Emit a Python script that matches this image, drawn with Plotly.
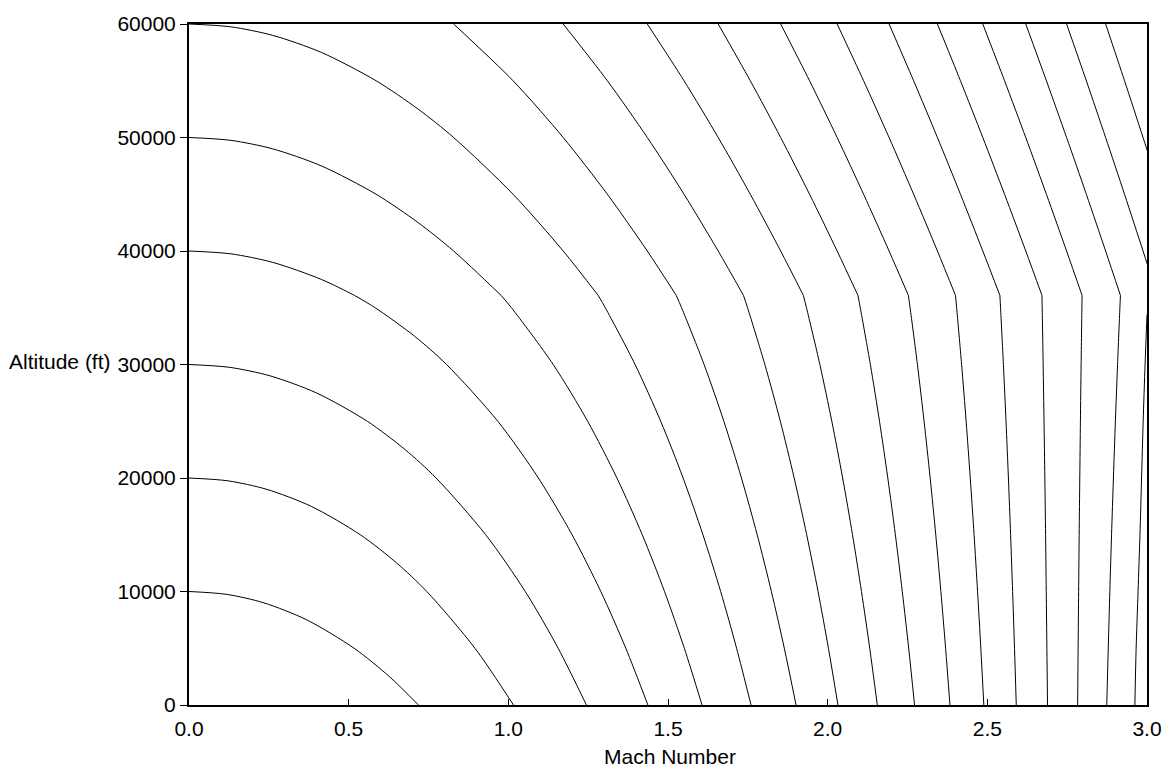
import plotly.graph_objects as go

# Energy-height curves (He = h + V^2/2g), read as (Mach, altitude ft) points
ALT_10K = [0, 2500, 5000, 7500, 9000, 9750, 10000]
MACH_10K = [0.7185, 0.6277, 0.5170, 0.3689, 0.2346, 0.1176, 0.0]

ALT_20K = [0, 5000, 10000, 12500, 15000, 17500, 19000, 19750, 20000]
MACH_20K = [1.0161, 0.8955, 0.7446, 0.6508, 0.5365, 0.3830, 0.2437, 0.1222, 0.0]

ALT_30K = [0, 5000, 10000, 15000, 20000, 22500, 25000, 27500, 29000, 29750, 30000]
MACH_30K = [1.2445, 1.1561, 1.0530, 0.9292, 0.7737, 0.6768, 0.5583, 0.3989, 0.2539, 0.1274, 0.0]

ALT_40K = [0, 5000, 10000, 15000, 20000, 25000, 30000, 32500, 35000, 36089, 37500, 39000, 39750, 40000]
MACH_40K = [1.4370, 1.3679, 1.2896, 1.1996, 1.0941, 0.9670, 0.8065, 0.7061, 0.5830, 0.5182, 0.4143, 0.2620, 0.1310, 0.0]

ALT_50K = [0, 5000, 10000, 15000, 20000, 25000, 30000, 35000, 36089, 40000, 42500, 45000, 47500, 49000, 49750, 50000]
MACH_50K = [1.6066, 1.5511, 1.4891, 1.4194, 1.3400, 1.2484, 1.1405, 1.0098, 0.9773, 0.8286, 0.7176, 0.5859, 0.4143, 0.2620, 0.1310, 0.0]

ALT_60K = [0, 5000, 10000, 15000, 20000, 25000, 30000, 35000, 36089, 40000, 45000, 50000, 52500, 55000, 57500, 59000, 59750, 60000]
MACH_60K = [1.7600, 1.7148, 1.6649, 1.6094, 1.5473, 1.4771, 1.3969, 1.3037, 1.2813, 1.1718, 1.0148, 0.8286, 0.7176, 0.5859, 0.4143, 0.2620, 0.1310, 0.0]

# common altitude grid for the higher-energy curves
ALT_HI = [0, 5000, 10000, 15000, 20000, 25000, 30000, 35000, 36089, 40000, 45000, 50000, 55000, 60000]
MACH_70K = [1.9010, 1.8642, 1.8238, 1.7793, 1.7300, 1.6749, 1.6130, 1.5426, 1.5259, 1.4352, 1.3101, 1.1718, 1.0148, 0.8286]
MACH_80K = [2.0322, 2.0024, 1.9699, 1.9343, 1.8951, 1.8517, 1.8033, 1.7491, 1.7363, 1.6572, 1.5502, 1.4352, 1.3101, 1.1718]
MACH_90K = [2.1555, 2.1317, 2.1059, 2.0778, 2.0469, 2.0130, 1.9755, 1.9337, 1.9239, 1.8528, 1.7577, 1.6572, 1.5502, 1.4352]
MACH_100K = [2.2721, 2.2537, 2.2337, 2.2120, 2.1883, 2.1623, 2.1337, 2.1021, 2.0948, 2.0297, 1.9433, 1.8528, 1.7577, 1.6572]
MACH_110K = [2.3830, 2.3693, 2.3545, 2.3385, 2.3210, 2.3019, 2.2811, 2.2581, 2.2527, 2.1923, 2.1125, 2.0297, 1.9433, 1.8528]
MACH_120K = [2.4890, 2.4796, 2.4694, 2.4585, 2.4465, 2.4336, 2.4194, 2.4039, 2.4003, 2.3437, 2.2692, 2.1923, 2.1125, 2.0297]
MACH_130K = [2.5906, 2.5851, 2.5792, 2.5729, 2.5660, 2.5585, 2.5503, 2.5414, 2.5393, 2.4858, 2.4158, 2.3437, 2.2692, 2.1923]
MACH_140K = [2.6884, 2.6865, 2.6845, 2.6824, 2.6801, 2.6775, 2.6748, 2.6718, 2.6710, 2.6203, 2.5539, 2.4858, 2.4158, 2.3437]
MACH_150K = [2.7828, 2.7843, 2.7859, 2.7876, 2.7895, 2.7915, 2.7937, 2.7961, 2.7966, 2.7482, 2.6850, 2.6203, 2.5539, 2.4858]
MACH_160K = [2.8740, 2.8787, 2.8836, 2.8890, 2.8948, 2.9010, 2.9078, 2.9151, 2.9168, 2.8704, 2.8100, 2.7482, 2.6850, 2.6203]

ALT_170K_LOW = [0, 5000, 10000, 15000, 20000, 25000, 30000, 34400]
MACH_170K_LOW = [2.962, 2.966, 2.972, 2.978, 2.983, 2.988, 2.994, 3.000]
ALT_170K_UP = [36089, 40000, 45000, 50000, 55000, 60000]
MACH_170K_UP = [3.0322, 2.9876, 2.9296, 2.8704, 2.8100, 2.7482]

ALT_180K = [36089, 40000, 45000, 50000, 55000, 60000]
MACH_180K = [3.1434, 3.1004, 3.0445, 2.9876, 2.9296, 2.8704]

TROPOPAUSE_FT = 36089

CURVES = [
    (MACH_10K, ALT_10K), (MACH_20K, ALT_20K), (MACH_30K, ALT_30K),
    (MACH_40K, ALT_40K), (MACH_50K, ALT_50K), (MACH_60K, ALT_60K),
    (MACH_70K, ALT_HI), (MACH_80K, ALT_HI), (MACH_90K, ALT_HI),
    (MACH_100K, ALT_HI), (MACH_110K, ALT_HI), (MACH_120K, ALT_HI),
    (MACH_130K, ALT_HI), (MACH_140K, ALT_HI), (MACH_150K, ALT_HI),
    (MACH_160K, ALT_HI), (MACH_170K_LOW, ALT_170K_LOW),
    (MACH_170K_UP, ALT_170K_UP), (MACH_180K, ALT_180K),
]

X_TICKS = [0.0, 0.5, 1.0, 1.5, 2.0, 2.5, 3.0]
X_TICK_TEXT = ["0.0", "0.5", "1.0", "1.5", "2.0", "2.5", "3.0"]
Y_TICKS = [0, 10000, 20000, 30000, 40000, 50000, 60000]
Y_TICK_TEXT = ["0", "10000", "20000", "30000", "40000", "50000", "60000"]

FONT = "Arial, 'Liberation Sans', sans-serif"

fig = go.Figure()


def add_piece(xs, ys):
    if len(xs) < 2:
        return
    fig.add_trace(go.Scatter(
        x=xs, y=ys, mode="lines",
        line=dict(color="black", width=1, shape="spline", smoothing=0.8),
        hoverinfo="skip", showlegend=False,
    ))


for mach, alt in CURVES:
    # split each curve at the tropopause so the kink stays sharp
    low = [(m, a) for m, a in zip(mach, alt) if a <= TROPOPAUSE_FT]
    high = [(m, a) for m, a in zip(mach, alt) if a >= TROPOPAUSE_FT]
    for piece in (low, high):
        add_piece([p[0] for p in piece], [p[1] for p in piece])

fig.update_layout(
    width=1174, height=772,
    margin=dict(l=189, r=26, t=17, b=67),
    paper_bgcolor="white", plot_bgcolor="white",
    font=dict(family=FONT, size=21, color="black"),
    showlegend=False,
)
fig.update_xaxes(
    range=[0, 3], tickvals=X_TICKS, ticktext=X_TICK_TEXT,
    ticks="inside", ticklen=6, tickwidth=1, tickcolor="black",
    showline=True, linewidth=2, linecolor="black", mirror=True,
    showgrid=False, zeroline=False, ticklabelstandoff=4,
    tickfont=dict(family=FONT, size=21, color="black"),
)
fig.update_yaxes(
    range=[0, 60000], tickvals=Y_TICKS, ticktext=Y_TICK_TEXT,
    ticks="outside", ticklen=7, tickwidth=1, tickcolor="black",
    showline=True, linewidth=2, linecolor="black", mirror=True,
    showgrid=False, zeroline=False,
    tickfont=dict(family=FONT, size=21, color="black"),
)
fig.add_annotation(
    text="Altitude (ft)", xref="paper", yref="paper",
    x=-0.0793, y=0.5044, xanchor="right", yanchor="middle",
    showarrow=False, font=dict(family=FONT, size=21, color="black"),
)
fig.add_annotation(
    text="Mach Number", xref="paper", yref="paper",
    x=0.5026, y=-0.0756, xanchor="center", yanchor="middle",
    showarrow=False, font=dict(family=FONT, size=21, color="black"),
)

fig.write_html("out.html")
